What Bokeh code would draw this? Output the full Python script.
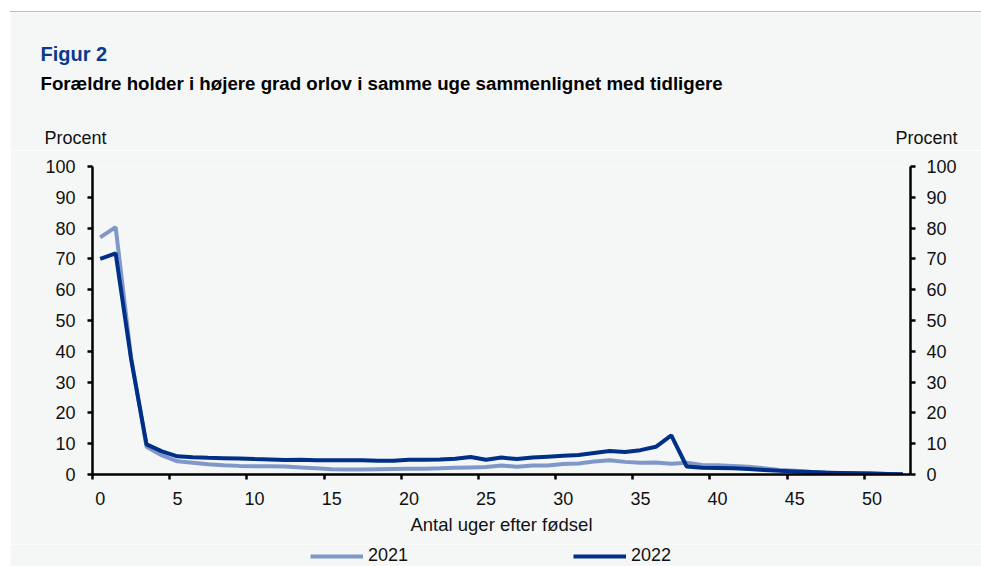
from bokeh.plotting import figure
from bokeh.models import (LinearAxis, FixedTicker, Range1d, Label, Legend, LegendItem,
                          Spacer, CustomJSTickFormatter)
from bokeh.layouts import column, row
from bokeh.embed import file_html
from bokeh.resources import INLINE

# ---- data ----
weeks = list(range(53))
share_2021 = [77.0, 80.3, 38.0, 9.0, 6.2, 4.3, 3.8, 3.3, 3.0, 2.8,
              2.7, 2.7, 2.6, 2.3, 2.0, 1.7, 1.6, 1.6, 1.7, 1.8,
              1.9, 1.9, 2.0, 2.2, 2.3, 2.4, 2.9, 2.5, 2.9, 2.9,
              3.4, 3.6, 4.2, 4.6, 4.1, 3.8, 3.9, 3.5, 3.8, 3.1,
              3.0, 2.8, 2.5, 2.0, 1.5, 1.2, 0.9, 0.7, 0.5, 0.4,
              0.3, 0.2, 0.1]
share_2022 = [70.0, 71.8, 37.5, 9.8, 7.5, 5.9, 5.6, 5.4, 5.3, 5.2,
              5.0, 4.9, 4.7, 4.8, 4.6, 4.6, 4.6, 4.6, 4.5, 4.5,
              4.8, 4.8, 4.9, 5.1, 5.7, 4.8, 5.5, 5.0, 5.5, 5.8,
              6.1, 6.3, 7.0, 7.6, 7.3, 7.9, 9.0, 12.7, 2.6, 2.2,
              2.1, 2.0, 1.8, 1.5, 1.2, 1.0, 0.8, 0.6, 0.5, 0.4,
              0.3, 0.2, 0.1]
y_ticks = list(range(0, 101, 10))
x_label_weeks = list(range(0, 51, 5))
series_names = ["2021", "2022"]

FONT = "Liberation Sans"
BG = "#f5f7f7"
C2021 = "#7f98c9"
C2022 = "#002f87"
TXT = "#111111"
W = 971


def bare_figure(height, x_range, y_range):
    f = figure(width=W, height=height, output_backend="svg", toolbar_location=None,
               x_range=x_range, y_range=y_range,
               x_axis_location=None, y_axis_location=None, min_border=0,
               background_fill_color=BG, border_fill_color=BG, outline_line_color=None)
    f.grid.visible = False
    return f


# ---------------- header: titles + unit labels (pixel coordinates) ----------------
HH = 138
header = bare_figure(HH, Range1d(0, W), Range1d(HH, 0))
texts = [
    ("Figur 2", 30, 41, "20px", "bold", "#0b3a8c"),
    ("Forældre holder i højere grad orlov i samme uge sammenlignet med tidligere",
     30, 71, "18.7px", "bold", "#000000"),
    ("Procent", 34, 125, "18px", "normal", TXT),
    ("Procent", 885, 125, "18px", "normal", TXT),
]
for t, x, y, fs, st, col in texts:
    header.add_layout(Label(x=x, y=y, text=t, text_font=FONT, text_font_size=fs,
                            text_font_style=st, text_color=col, text_align="left",
                            text_baseline="alphabetic"))

# ---------------- main chart ----------------
p = figure(width=W, height=394, output_backend="svg", toolbar_location=None,
           x_range=Range1d(-0.5, 52.5), y_range=Range1d(0, 100),
           x_axis_location=None, y_axis_location=None,
           min_border_left=82, min_border_right=71, min_border_top=16, min_border_bottom=70,
           background_fill_color=BG, border_fill_color=BG, outline_line_color=None)
p.grid.visible = False


def style_axis(ax):
    ax.axis_line_color = "black"
    ax.axis_line_width = 2.5
    ax.major_tick_line_color = "black"
    ax.major_tick_line_width = 2.5
    ax.major_tick_in = 0
    ax.major_tick_out = 5
    ax.minor_tick_line_color = None
    ax.major_label_text_font = FONT
    ax.major_label_text_font_size = "18px"
    ax.major_label_text_color = TXT


for side, so in (("left", 12), ("right", 11)):
    ax = LinearAxis(ticker=FixedTicker(ticks=y_ticks))
    style_axis(ax)
    ax.major_label_standoff = so
    p.add_layout(ax, side)

# tick marks on week boundaries
xt = LinearAxis(ticker=FixedTicker(ticks=[w - 0.5 for w in x_label_weeks]),
                formatter=CustomJSTickFormatter(code="return ''"))
style_axis(xt)
xt.major_label_standoff = 0
p.add_layout(xt, "below")

# labels centred on the weeks
xl = LinearAxis(ticker=FixedTicker(ticks=x_label_weeks))
style_axis(xl)
xl.axis_line_color = None
xl.major_tick_line_color = None
xl.major_tick_out = 0
xl.major_label_standoff = 12
xl.axis_label = "Antal uger efter fødsel"
xl.axis_label_text_font = FONT
xl.axis_label_text_font_size = "18.5px"
xl.axis_label_text_font_style = "normal"
xl.axis_label_text_color = TXT
xl.axis_label_standoff = 6
p.add_layout(xl, "below")

p.line(weeks, share_2021, line_color=C2021, line_width=4)
p.line(weeks, share_2022, line_color=C2022, line_width=4)

# ---------------- footer: legend ----------------
FH = 22
footer = bare_figure(FH, Range1d(0, 1), Range1d(0, 1))
f1 = footer.line(weeks, share_2021, line_color=C2021, line_width=4, visible=False)
f2 = footer.line(weeks, share_2022, line_color=C2022, line_width=4, visible=False)
legend = Legend(items=[LegendItem(label=series_names[0], renderers=[f1]),
                       LegendItem(label=series_names[1], renderers=[f2])],
                orientation="horizontal", location=(300, 0), spacing=0,
                glyph_width=53, glyph_height=20, label_standoff=5, label_width=205,
                label_height=20,
                label_text_font=FONT, label_text_font_size="18px",
                label_text_color=TXT, inactive_fill_alpha=0,
                background_fill_alpha=0, border_line_color=None,
                padding=0, margin=0)
footer.add_layout(legend)

top = Spacer(width=W, height=11)
rule = Spacer(width=W, height=1, styles={"background-color": "#bdbdbd"})
body = column(top, rule, row(header), row(p), row(footer), spacing=0)
layout = row(Spacer(width=10, height=566), body, spacing=0)

open("out.html", "w").write(file_html(layout, INLINE))
